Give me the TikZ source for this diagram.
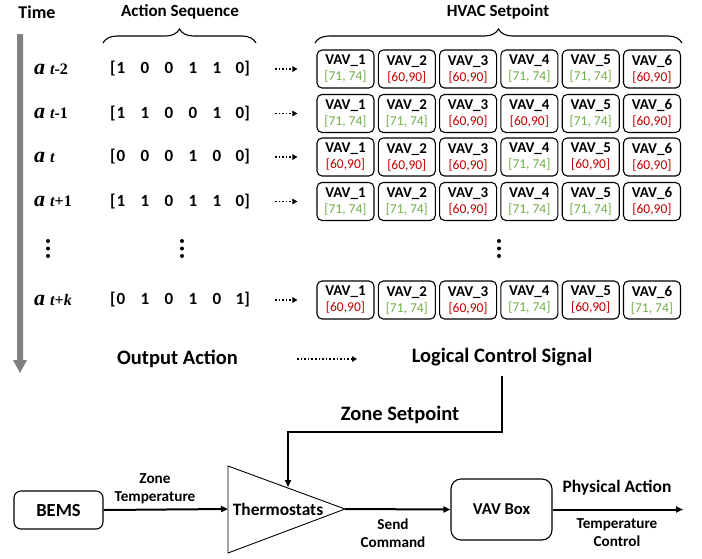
\documentclass[tikz,border=0pt]{standalone}
\usepackage{fontspec}
\setmainfont{Carlito}
\newfontfamily\tms{Liberation Serif}
\usetikzlibrary{arrows.meta,decorations.pathreplacing}
\definecolor{vgreen}{HTML}{70AD47}
\definecolor{vred}{HTML}{C00000}
\definecolor{tgray}{HTML}{808080}
\newcommand{\vsix}[6]{[\hspace{1pt}\makebox[24pt][l]{#1}\makebox[24pt][l]{#2}\makebox[24pt][l]{#3}\makebox[24pt][l]{#4}\makebox[23pt][l]{#5}#6]}
\newcommand{\alab}[1]{{\tms\fontsize{22}{22}\selectfont\bfseries\itshape a}\hspace{5pt}{\tms\fontsize{16}{16}\selectfont\bfseries #1}}
\newcommand{\vv}[2]{{\fontsize{15}{16}\selectfont\bfseries VAV\_#1}\\\ifnum#2=1 \textcolor{vgreen}{[71, 74]}\else\textcolor{vred}{[60,90]}\fi}
\begin{document}
\begin{tikzpicture}[x=1pt,y=-1pt,
  hdr/.style={font=\fontsize{17}{20}\selectfont\bfseries, inner sep=0},
  big/.style={font=\fontsize{20.5}{24}\selectfont\bfseries, inner sep=0},
  vav/.style={draw, rounded corners=5pt, line width=1.1pt, minimum width=57pt, minimum height=38pt, inner sep=0, align=center, font=\fontsize{13.5}{16}\selectfont},
  dar/.style={line width=1.6pt, dash pattern=on 1.6pt off 2pt, -{Triangle[length=5pt,width=5.5pt]}},
  sar/.style={line width=2pt, -{Triangle[length=7pt,width=6pt]}},
  lbl/.style={font=\fontsize{15.2}{18}\selectfont\bfseries, align=center, inner sep=0},
  blk/.style={draw, rounded corners=8pt, line width=1.1pt, font=\fontsize{18.5}{20}\selectfont\bfseries},
  brc/.style={decorate, decoration={brace, amplitude=14pt}, line width=1.1pt},
  dot/.style={circle, fill, inner sep=0, minimum size=4pt}]
\useasboundingbox (0,0) rectangle (702,558);

% headers
\node[hdr, font=\fontsize{18}{20}\selectfont\bfseries] (time) at (37,12) {Time};
\node[hdr] (aseq) at (180,12) {Action Sequence};
\node[hdr] (hvac) at (498,12) {HVAC Setpoint};
\draw[brc] (103,43) -- (256,43);
\draw[brc] (315,43) -- (682,43);

% time arrow
\fill[tgray] (17,34) -- (23,34) -- (23,360) -- (27,360) -- (20,373) -- (13,360) -- (17,360) -- cycle;

% row labels
\node[anchor=west, inner sep=0] (a1) at (34,69) {\alab{\itshape t\upshape -2}};
\node[anchor=west, inner sep=0] (a2) at (34,113.5) {\alab{\itshape t\upshape -1}};
\node[anchor=west, inner sep=0] (a3) at (34,157) {\alab{\itshape t}};
\node[anchor=west, inner sep=0] (a4) at (34,201.5) {\alab{\itshape t\upshape +1}};
\node[anchor=west, inner sep=0] (a5) at (34,300) {\alab{\itshape t\upshape +\itshape k}};

% vectors
\node[hdr, anchor=west] (v1) at (110,69) {\vsix100110};
\node[hdr, anchor=west] (v2) at (110,113.5) {\vsix110010};
\node[hdr, anchor=west] (v3) at (110,157) {\vsix000100};
\node[hdr, anchor=west] (v4) at (110,201.5) {\vsix110110};
\node[hdr, anchor=west] (v5) at (110,300) {\vsix010101};

% vertical ellipses
\foreach \x in {48,182,499}{
  \node[dot] at (\x,241) {};
  \node[dot] at (\x,248.5) {};
  \node[dot] at (\x,256) {};
}

% VAV boxes
\foreach \r/\y/\bits in {1/69/{1,0,0,1,1,0},2/113.5/{1,1,0,0,1,0},3/157/{0,0,0,1,0,0},4/201.5/{1,1,0,1,1,0},5/300/{0,1,0,1,0,1}}{
  \foreach \b [count=\i] in \bits {
    \node[vav] (b\r\i) at ({345.5+61.3*(\i-1)},\y) {\vv{\i}{\b}};
  }
  \draw[dar] ([xshift=25pt]v\r.east) -- ([xshift=-19pt]b\r1.west);
}

% output action -> logical control signal
\node[big] (oa) at (177.5,359) {Output Action};
\node[big] (lcs) at (502,357) {Logical Control Signal};
\coordinate (oaend) at (297,359);
\coordinate (lcsin) at (357,359);
\draw[dar] (oaend) -- (lcsin);

% bottom block diagram
\node[blk, rounded corners=7pt, minimum width=89pt, minimum height=38pt] (bems) at (58.5,510) {BEMS};
\draw[line width=0.9pt] (228,466) coordinate (ttop) -- (345,509) coordinate (tip) -- (228,553) coordinate (tbot) -- cycle;
\coordinate (tleft) at (228,509);
\coordinate (tin) at (288,487);
\node[hdr, font=\fontsize{17.4}{20}\selectfont\bfseries] (therm) at (278,509) {Thermostats};
\node[blk, rounded corners=10pt, minimum width=101pt, minimum height=61pt, font=\fontsize{16.6}{20}\selectfont\bfseries] (vavbox) at (501.5,509.5) {VAV Box};
\coordinate (out) at (683,509.5);
\coordinate (bend) at (288,432);
\coordinate (lcsb) at (502,376);

\draw[sar] (bems.east) -- (tleft);
\draw[sar] (tip) -- (vavbox.west);
\draw[sar] (vavbox.east) -- (out);
\draw[sar] (lcsb) |- (bend) -- (tin);

\node[big] (zs) at (400,415) {Zone Setpoint};
\node[lbl] (zt) at (155,489) {Zone\\Temperature};
\node[lbl] (sc) at (393,533) {Send\\Command};
\node[hdr, font=\fontsize{17.5}{20}\selectfont\bfseries] (pa) at (617,488) {Physical Action};
\node[lbl] (tc) at (617,533) {Temperature\\Control};
\end{tikzpicture}
\end{document}
